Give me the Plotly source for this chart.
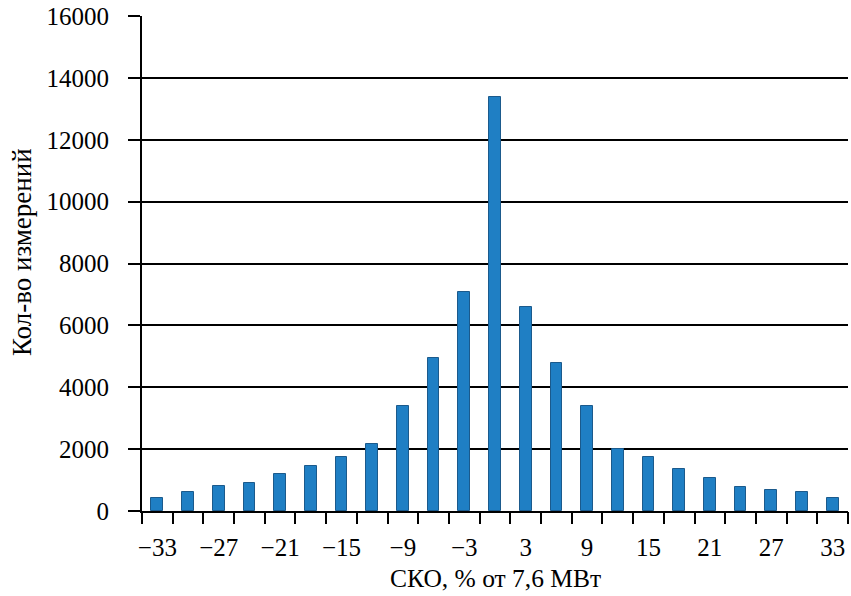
import plotly.graph_objects as go

x_vals = [-33, -30, -27, -24, -21, -18, -15, -12, -9, -6, -3, 0,
          3, 6, 9, 12, 15, 18, 21, 24, 27, 30, 33]
counts = [410, 600, 795, 890, 1180, 1470, 1760, 2150, 3410, 4960, 7090, 13390,
          6610, 4770, 3410, 2000, 1750, 1370, 1070, 785, 695, 600, 410]
tick_vals = [-33, -27, -21, -15, -9, -3, 3, 9, 15, 21, 27, 33]
tick_text = ["\u221233", "\u221227", "\u221221", "\u221215", "\u22129", "\u22123",
             "3", "9", "15", "21", "27", "33"]
minor_ticks = [-34.5 + 3 * i for i in range(24)]
y_ticks = [0, 2000, 4000, 6000, 8000, 10000, 12000, 14000, 16000]
y_text = [str(v) for v in y_ticks]
x_title = "СКО, % от 7,6 МВт"
y_title = "Кол-во измерений"

fam = "Liberation Serif, Times New Roman, serif"
tick_font = dict(family=fam, size=25, color="black")

fig = go.Figure()
fig.add_trace(go.Bar(
    x=x_vals, y=counts, width=1.15,
    marker=dict(color="#1f7fc4", line=dict(color="#1b5a8c", width=1)),
    showlegend=False,
))
fig.add_trace(go.Scatter(x=[0], y=[0], xaxis="x2", mode="markers",
                         marker=dict(opacity=0), showlegend=False, hoverinfo="skip"))

fig.update_layout(
    width=851, height=596,
    margin=dict(l=142, r=3, t=16, b=85),
    paper_bgcolor="white", plot_bgcolor="white",
    font=tick_font,
    bargap=0,
    xaxis=dict(
        range=[-34.5, 34.5], tickvals=tick_vals, ticktext=tick_text,
        ticks="", showgrid=False, zeroline=False, showline=True,
        linecolor="black", linewidth=2, automargin=False,
        tickfont=tick_font, ticklabelstandoff=13, ticklabeloverflow="allow",
    ),
    xaxis2=dict(
        overlaying="x", matches="x", range=[-34.5, 34.5], tickvals=minor_ticks,
        ticks="outside", ticklen=12, tickwidth=2, tickcolor="black",
        showticklabels=False, showgrid=False, zeroline=False, showline=False,
        side="bottom", automargin=False,
    ),
    yaxis=dict(
        range=[0, 16000], tickvals=y_ticks, ticktext=y_text, ticks="outside",
        ticklen=12, tickwidth=2, tickcolor="black", showgrid=True,
        gridcolor="black", gridwidth=2, zeroline=False, showline=True,
        linecolor="black", linewidth=2, tickfont=tick_font,
        ticklabelstandoff=14, automargin=False, ticklabeloverflow="allow",
    ),
    annotations=[
        dict(text=x_title, xref="paper", yref="paper", x=0.5, y=0,
             xanchor="center", yanchor="middle", yshift=-67, showarrow=False,
             font=dict(family=fam, size=25.5, color="black")),
        dict(text=y_title, xref="paper", yref="paper", x=0, y=0.523,
             xanchor="center", yanchor="middle", xshift=-120, textangle=-90,
             showarrow=False, font=dict(family=fam, size=27, color="black")),
    ],
)

fig.write_html("out.html", config={"displayModeBar": False},
               post_script="document.body.style.margin='0';")
